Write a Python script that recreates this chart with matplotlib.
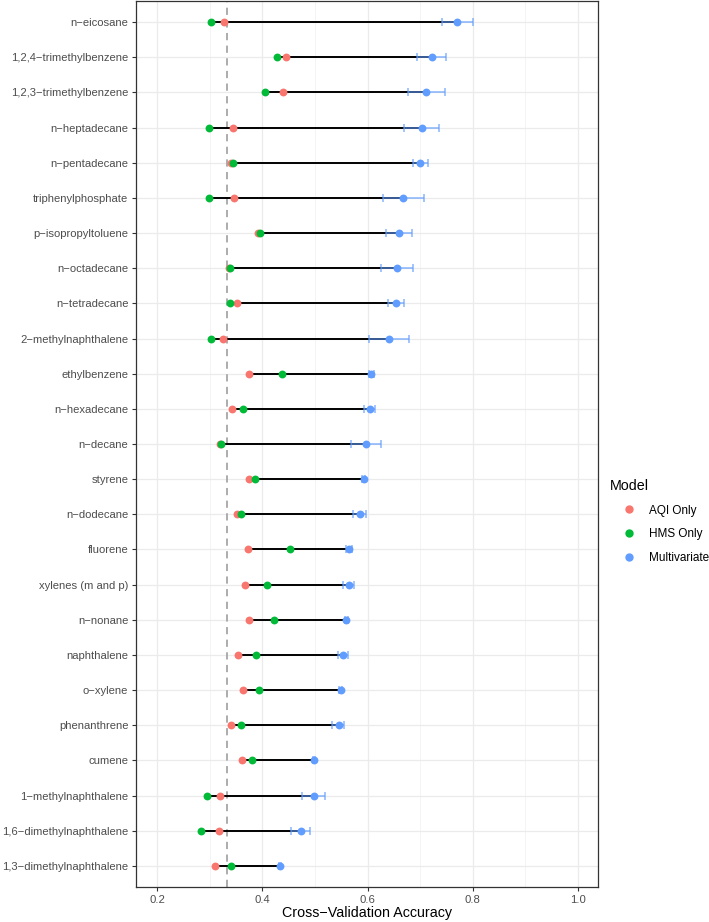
import matplotlib.pyplot as plt
from matplotlib.lines import Line2D

plt.rcParams['font.family'] = ['Liberation Sans', 'DejaVu Sans']

# compuestos, de arriba hacia abajo
compuestos = ["n\u2212eicosane", "1,2,4\u2212trimethylbenzene", "1,2,3\u2212trimethylbenzene",
              "n\u2212heptadecane", "n\u2212pentadecane", "triphenylphosphate",
              "p\u2212isopropyltoluene", "n\u2212octadecane", "n\u2212tetradecane",
              "2\u2212methylnaphthalene", "ethylbenzene", "n\u2212hexadecane", "n\u2212decane",
              "styrene", "n\u2212dodecane", "fluorene", "xylenes (m and p)", "n\u2212nonane",
              "naphthalene", "o\u2212xylene", "phenanthrene", "cumene",
              "1\u2212methylnaphthalene", "1,6\u2212dimethylnaphthalene", "1,3\u2212dimethylnaphthalene"]

aqi = [0.328, 0.446, 0.439, 0.344, 0.341, 0.346, 0.391, 0.336, 0.352, 0.325,
       0.375, 0.343, 0.320, 0.374, 0.352, 0.372, 0.367, 0.374, 0.353, 0.364,
       0.341, 0.362, 0.320, 0.318, 0.311]
hms = [0.302, 0.428, 0.405, 0.298, 0.345, 0.298, 0.395, 0.338, 0.339, 0.302,
       0.438, 0.363, 0.321, 0.386, 0.360, 0.452, 0.409, 0.423, 0.388, 0.394,
       0.360, 0.381, 0.295, 0.284, 0.340]
multi = [0.770, 0.722, 0.711, 0.703, 0.700, 0.668, 0.659, 0.656, 0.654, 0.640,
         0.607, 0.604, 0.597, 0.593, 0.585, 0.564, 0.564, 0.560, 0.553, 0.549,
         0.545, 0.499, 0.498, 0.473, 0.433]
multi_lo = [0.741, 0.694, 0.676, 0.670, 0.686, 0.630, 0.635, 0.626, 0.639, 0.602,
            0.602, 0.594, 0.569, 0.590, 0.573, 0.559, 0.554, 0.557, 0.543, 0.546,
            0.533, 0.497, 0.476, 0.455, 0.431]
multi_hi = [0.800, 0.750, 0.747, 0.735, 0.714, 0.707, 0.684, 0.687, 0.669, 0.678,
            0.613, 0.614, 0.626, 0.596, 0.598, 0.571, 0.574, 0.563, 0.563, 0.552,
            0.556, 0.501, 0.520, 0.491, 0.435]
azar = 1 / 3

rojo, verde, azul = "#F8766D", "#00BA38", "#619CFF"

fig = plt.figure(figsize=(7.09, 9.22), dpi=100)
ax = fig.add_axes([136 / 709, 35 / 922, 462 / 709, 886 / 922])

y = list(range(len(compuestos)))
izq = [min(a, h, m) for a, h, m in zip(aqi, hms, multi)]
der = [max(a, h, m) for a, h, m in zip(aqi, hms, multi)]

ax.hlines(y, izq, der, color="black", lw=1.4, zorder=3)
err = [[m - l for m, l in zip(multi, multi_lo)], [h - m for m, h in zip(multi, multi_hi)]]
ax.errorbar(multi, y, xerr=err, fmt="none", ecolor=azul, alpha=0.75,
            elinewidth=1.1, capsize=3, capthick=1.1, zorder=4)
ax.axvline(azar, color="#A6A6A6", ls=(0, (4, 3)), lw=1.3, zorder=2.5)
ax.scatter(aqi, y, s=32, color=rojo, zorder=5, linewidths=0)
ax.scatter(hms, y, s=32, color=verde, zorder=6, linewidths=0)
ax.scatter(multi, y, s=32, color=azul, zorder=7, linewidths=0)

ax.set_xlim(0.16, 1.038)
ax.set_ylim(len(compuestos) - 0.4, -0.6)
ax.set_yticks(y)
ax.set_yticklabels(compuestos)
ax.set_xticks([0.2, 0.4, 0.6, 0.8, 1.0])
ax.set_xticklabels(["0.2", "0.4", "0.6", "0.8", "1.0"])
ax.set_xticks([0.3, 0.5, 0.7, 0.9], minor=True)
ax.tick_params(axis="both", which="major", labelsize=8.1, colors="#333333",
               labelcolor="#4D4D4D", length=3, width=0.8, pad=2.5)
ax.tick_params(axis="x", which="minor", length=0)
ax.grid(True, which="major", color="#EBEBEB", lw=0.9, zorder=0)
ax.grid(True, which="minor", axis="x", color="#F2F2F2", lw=0.6, zorder=0)
ax.set_axisbelow(True)
for s in ax.spines.values():
    s.set_color("#333333")
    s.set_linewidth(0.9)
ax.set_xlabel("Cross\u2212Validation Accuracy", fontsize=10.3, labelpad=1)

marcas = [Line2D([], [], ls="", marker="o", ms=5, color=c) for c in (rojo, verde, azul)]
leg = fig.legend(marcas, ["AQI Only", "HMS Only", "Multivariate"], title="Model",
                 loc="upper left", bbox_to_anchor=(605 / 709, 1 - 474 / 922),
                 frameon=False, fontsize=8.5, title_fontsize=10.3, handletextpad=0.15,
                 labelspacing=1.0, handlelength=3.2, borderaxespad=0)
leg._legend_box.align = "left"

fig.savefig("out.png", dpi=100)
